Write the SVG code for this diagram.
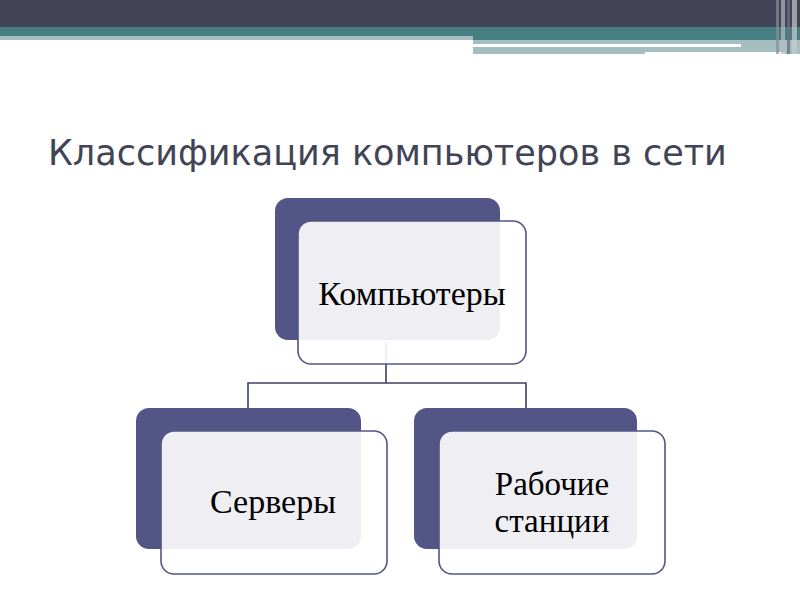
<svg xmlns="http://www.w3.org/2000/svg" width="800" height="600" viewBox="0 0 800 600">
<style>
.back{fill:#535586}
.front{fill:#ffffff;fill-opacity:0.9;stroke:#535586;stroke-width:1.6}
.lbl{font-family:"Liberation Serif","Times New Roman",serif;font-size:34px;fill:#000;text-anchor:middle}
.lbl2{font-size:33px}
.title{font-family:"DejaVu Sans","Verdana",sans-serif;font-size:35px;fill:#404455}
.conn{stroke:#3e4160;stroke-width:1.6;fill:none}
</style>
<rect x="0" y="0" width="800" height="600" fill="#ffffff"/>
<g id="header">
<rect x="0" y="0" width="800" height="27" fill="#424456"/>
<rect x="0" y="27" width="800" height="9" fill="#457f82"/>
<rect x="0" y="36" width="473" height="4" fill="#a5bfc0"/>
<rect x="473" y="36" width="327" height="4" fill="#457f82"/>
<rect x="473" y="40" width="327" height="14" fill="#a5bfc0"/>
<rect x="473" y="44" width="268" height="3" fill="#ffffff"/>
<rect x="645" y="52" width="140" height="2" fill="#ffffff"/>
<rect x="776" y="0" width="3" height="54" fill="#8a8c9a" opacity="0.7"/>
<rect x="781" y="0" width="4" height="54" fill="#b8bac4" opacity="0.7"/>
<rect x="787" y="0" width="3" height="54" fill="#6b6e80" opacity="0.8"/>
<rect x="792" y="0" width="5" height="54" fill="#c8cad2" opacity="0.7"/>
</g>
<text class="title" x="48" y="165">Классификация компьютеров в сети</text>
<g id="connectors">
<path class="conn" d="M386,342 V383 M248,408 V383 H526 V408"/>
</g>
<g id="node-computers">
<rect class="back" x="275" y="198" width="225" height="142" rx="13"/>
<rect class="front" x="298" y="221" width="228" height="143" rx="13"/>
<text class="lbl" x="412" y="305">Компьютеры</text>
</g>
<g id="node-servers">
<rect class="back" x="136" y="408" width="225" height="141" rx="13"/>
<rect class="front" x="161" y="431" width="226" height="143" rx="13"/>
<text class="lbl" x="273" y="513">Серверы</text>
</g>
<g id="node-workstations">
<rect class="back" x="414" y="408" width="223" height="141" rx="13"/>
<rect class="front" x="439" y="431" width="226" height="143" rx="13"/>
<text class="lbl lbl2" x="552" y="495">Рабочие</text>
<text class="lbl lbl2" x="552" y="532">станции</text>
</g>
</svg>
